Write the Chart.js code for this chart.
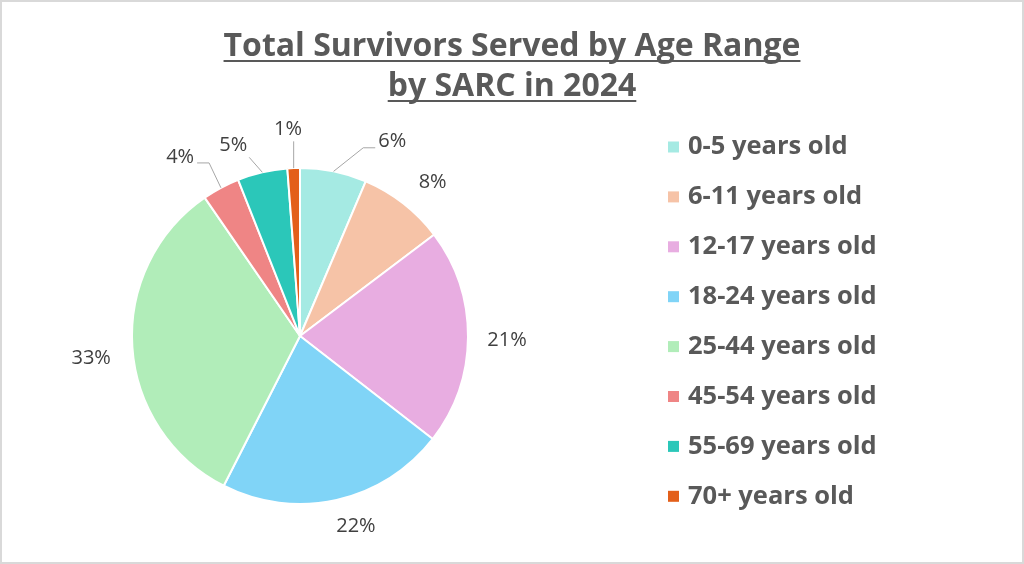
<!DOCTYPE html>
<html><head><meta charset="utf-8">
<script src="https://cdn.jsdelivr.net/npm/chart.js@4"></script>
<style>html,body{margin:0;padding:0;background:#fff;}canvas{display:block}</style>
</head><body>
<canvas id="c" width="1024" height="564"></canvas>
<script>
const titleLines = ['Total Survivors Served by Age Range', 'by SARC in 2024'];
const categories = ['0-5 years old', '6-11 years old', '12-17 years old', '18-24 years old', '25-44 years old', '45-54 years old', '55-69 years old', '70+ years old'];
const shares = [6.4, 8.3, 20.8, 22.0, 32.9, 3.6, 4.8, 1.2];
const sliceColors = ['#A5EAE3', '#F6C3A7', '#E8ADE1', '#80D4F7', '#B1EDB9', '#EF8585', '#2BC7B9', '#E35F1A'];
// label placement (degrees clockwise from top, px from centre) and leader style
const labelAngles = [25.4, 40.8, 91.1, 163.6, 264, 326.2, 340.7, 356.7];
const labelDists = [215, 203, 207, 198, 210, 215.5, 202, 207];
const leaderStyles = ['elbow', null, null, null, null, 'elbow', 'straight', 'straight'];

const TEXT_GREY = '#595959';
const LABEL_GREY = '#404040';

const decor = {
  id: 'decor',
  afterDraw(chart) {
    const ctx = chart.ctx;
    const meta = chart.getDatasetMeta(0);
    const arcs = meta.data;
    const cx = arcs[0].x, cy = arcs[0].y, R = arcs[0].outerRadius;
    const total = shares.reduce((a, b) => a + b, 0);
    ctx.save();
    // frame
    ctx.strokeStyle = '#D9D9D9';
    ctx.lineWidth = 2;
    ctx.strokeRect(1, 1, chart.width - 2, chart.height - 2);
    // title
    ctx.fillStyle = TEXT_GREY;
    ctx.font = 'bold 32px "Open Sans"';
    ctx.textAlign = 'center';
    ctx.textBaseline = 'alphabetic';
    const tBase = [56, 96];
    titleLines.forEach((t, i) => {
      ctx.fillText(t, 512, tBase[i]);
      const w = ctx.measureText(t).width;
      ctx.fillRect(512 - w / 2, tBase[i] + 4, w, 2);
    });
    // legend
    ctx.font = 'bold 25.5px "Open Sans"';
    ctx.textAlign = 'left';
    ctx.textBaseline = 'middle';
    categories.forEach((c, i) => {
      const y = 147 + i * 49.9;
      ctx.fillStyle = sliceColors[i];
      ctx.fillRect(668, y - 5.5, 11, 11);
      ctx.fillStyle = TEXT_GREY;
      ctx.fillText(c, 688, y);
    });
    // data labels
    ctx.font = '20px "Open Sans"';
    ctx.textAlign = 'center';
    ctx.textBaseline = 'middle';
    arcs.forEach((arc, i) => {
      const a = labelAngles[i] * Math.PI / 180;
      const lx = cx + Math.sin(a) * labelDists[i];
      const ly = cy - Math.cos(a) * labelDists[i];
      const txt = Math.round(shares[i] / total * 100) + '%';
      const w = ctx.measureText(txt).width;
      const mid = (arc.startAngle + arc.endAngle) / 2;
      const sx = cx + Math.cos(mid) * R, sy = cy + Math.sin(mid) * R;
      ctx.strokeStyle = '#A6A6A6';
      ctx.lineWidth = 1;
      if (leaderStyles[i] === 'elbow') {
        const side = lx > cx ? -1 : 1;
        const ex = lx + side * (w / 2 + 3), ey = ly + 6;
        ctx.beginPath();
        ctx.moveTo(sx, sy);
        ctx.lineTo(ex + side * 12, ey);
        ctx.lineTo(ex, ey);
        ctx.stroke();
      } else if (leaderStyles[i] === 'straight') {
        const ex = Math.min(Math.max(sx, lx - w / 2 - 2), lx + w / 2 + 2);
        const ey = Math.min(Math.max(sy, ly - 12), ly + 12);
        ctx.beginPath();
        ctx.moveTo(sx, sy);
        ctx.lineTo(ex, ey);
        ctx.stroke();
      }
      ctx.fillStyle = LABEL_GREY;
      ctx.fillText(txt, lx, ly);
    });
    ctx.restore();
  }
};

new Chart(document.getElementById('c'), {
  type: 'pie',
  data: {
    labels: categories,
    datasets: [{
      data: shares,
      backgroundColor: sliceColors,
      borderColor: '#FFFFFF',
      borderWidth: 2
    }]
  },
  options: {
    responsive: false,
    devicePixelRatio: 1,
    animation: false,
    layout: { padding: { left: 131, right: 555, top: 167, bottom: 59 } },
    plugins: { legend: { display: false }, tooltip: { enabled: false }, title: { display: false } }
  },
  plugins: [decor]
});
</script>
</body></html>
